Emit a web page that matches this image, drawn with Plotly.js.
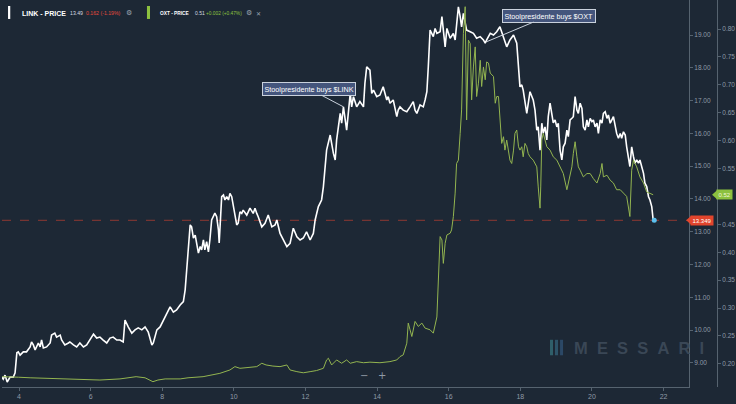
<!DOCTYPE html>
<html>
<head>
<meta charset="utf-8">
<script src="https://cdn.plot.ly/plotly-3.0.1.min.js"></script>
<style>html,body{margin:0;padding:0;background:#1d2835;}#chart{width:736px;height:404px;}</style>
</head>
<body>
<div id="chart"></div>
<script>
// ---- data (day of month, price) ----
const linkDays = [
3.52,3.56,3.61,3.67,3.75,3.84,3.89,3.94,3.98,4.03,
4.12,4.21,4.31,4.35,4.40,4.45,4.54,4.59,4.63,4.68,
4.77,4.87,4.91,5.00,5.05,5.15,5.19,5.28,5.38,5.42,
5.52,5.61,5.70,5.80,5.89,5.98,6.08,6.17,6.26,6.35,
6.45,6.54,6.63,6.73,6.82,6.91,6.96,7.05,7.15,7.24,
7.33,7.43,7.52,7.61,7.71,7.75,7.85,7.94,8.03,8.13,
8.22,8.31,8.40,8.50,8.59,8.64,8.68,8.73,8.78,8.82,
8.87,8.92,8.96,9.01,9.06,9.10,9.15,9.19,9.24,9.29,
9.33,9.38,9.47,9.52,9.57,9.59,9.66,9.71,9.75,9.80,
9.85,9.89,9.94,9.99,10.03,10.08,10.12,10.17,10.22,10.26,
10.36,10.45,10.54,10.59,10.64,10.68,10.78,10.87,10.96,11.06,
11.15,11.20,11.29,11.38,11.48,11.57,11.66,11.76,11.85,11.94,
12.03,12.13,12.22,12.27,12.36,12.45,12.50,12.59,12.69,12.78,
12.83,12.87,12.92,12.97,13.01,13.06,13.15,13.20,13.25,13.29,
13.34,13.43,13.52,13.62,13.66,13.71,13.76,13.80,13.85,13.90,
13.99,14.08,14.17,14.22,14.27,14.31,14.36,14.45,14.55,14.59,
14.64,14.73,14.83,14.92,15.01,15.06,15.11,15.20,15.29,15.34,
15.39,15.43,15.48,15.57,15.62,15.67,15.76,15.81,15.90,15.95,
16.04,16.13,16.18,16.22,16.27,16.32,16.36,16.41,16.50,16.60,
16.69,16.78,16.88,16.97,17.02,17.06,17.16,17.25,17.34,17.43,
17.53,17.62,17.71,17.81,17.90,17.95,17.99,18.04,18.08,18.18,
18.22,18.27,18.36,18.41,18.46,18.50,18.55,18.60,18.64,18.69,
18.74,18.78,18.83,18.88,18.92,18.97,19.02,19.06,19.11,19.16,
19.20,19.25,19.30,19.34,19.39,19.44,19.48,19.53,19.58,19.62,
19.67,19.72,19.76,19.81,19.86,19.90,19.95,20.00,20.04,20.09,
20.14,20.18,20.23,20.28,20.32,20.37,20.42,20.46,20.51,20.60,
20.65,20.69,20.74,20.79,20.83,20.88,20.93,20.97,21.06,21.11,
21.16,21.20,21.25,21.30,21.34,21.39,21.44,21.48,21.53,21.58,
21.62,21.67,21.71,21.74];
const linkPrice = [
8.57,8.51,8.63,8.42,8.57,8.57,8.70,9.31,9.34,9.24,
9.34,9.34,9.49,9.64,9.55,9.40,9.61,9.49,9.70,9.46,
9.49,9.61,9.85,9.91,9.79,9.85,9.70,9.55,9.61,9.64,
9.55,9.49,9.61,9.49,9.55,9.70,9.88,9.76,9.79,9.70,
9.61,9.76,9.79,9.70,9.70,9.64,10.31,10.10,9.91,10.01,
10.07,10.01,10.10,9.94,9.55,9.61,10.01,10.10,10.31,10.52,
10.71,10.55,10.62,10.77,10.87,11.23,11.74,12.45,13.21,13.15,
12.81,12.90,12.66,12.35,12.55,12.45,12.75,12.45,12.70,12.39,
12.75,13.36,13.57,13.46,13.05,12.66,14.07,14.12,13.97,14.07,
13.97,14.17,14.07,13.77,13.61,13.21,13.26,13.61,13.56,13.66,
13.51,13.72,13.56,13.72,13.56,13.46,13.15,13.26,13.51,13.15,
13.21,13.36,12.95,12.75,12.55,12.65,13.11,12.85,12.75,12.81,
13.00,12.75,12.95,13.36,13.77,13.97,14.37,15.49,15.95,15.39,
15.19,15.80,16.31,16.61,16.31,16.81,16.10,16.71,17.22,16.81,
17.12,16.81,16.97,16.81,17.53,18.03,17.98,17.93,17.22,17.32,
17.12,17.17,17.42,17.22,17.02,17.12,16.92,17.02,16.51,16.71,
16.81,16.71,16.66,16.81,16.97,16.71,16.61,16.87,16.81,17.02,
17.27,18.03,19.15,18.95,19.20,19.05,19.10,19.56,18.64,19.20,
18.90,19.05,18.85,19.30,19.86,19.56,19.25,19.66,19.15,19.10,
19.05,18.90,18.95,18.85,18.75,18.85,19.05,19.00,19.10,19.25,
18.95,18.64,18.85,19.00,18.75,18.03,17.42,17.48,17.32,16.61,
16.92,17.27,17.02,16.71,16.10,16.20,15.49,16.31,16.00,16.20,
15.80,16.51,16.92,16.61,16.32,16.41,16.20,16.31,15.49,15.19,
15.59,15.70,16.10,15.90,16.41,16.46,16.51,17.12,16.71,16.61,
16.92,16.76,16.20,16.10,16.41,16.20,16.46,16.36,16.41,16.20,
16.31,16.00,16.41,16.31,16.61,16.66,16.46,16.56,16.31,16.51,
16.20,16.00,15.85,16.00,15.85,16.05,15.95,15.59,14.99,15.59,
15.29,15.09,15.19,15.09,15.19,14.99,14.78,14.48,14.38,14.07,
13.97,13.77,13.36,13.35];

const oxtDays = [
3.53,3.75,3.99,4.31,4.78,5.15,5.70,6.26,6.82,7.13,
7.27,7.52,7.74,7.88,8.08,8.50,8.72,9.14,9.42,9.61,
9.89,10.03,10.17,10.45,10.64,10.78,10.90,11.09,11.29,11.48,
11.57,11.76,11.94,12.13,12.31,12.50,12.59,12.64,12.73,12.87,
13.01,13.15,13.25,13.43,13.62,13.80,14.08,14.36,14.55,14.64,
14.73,14.83,14.87,14.92,14.97,15.06,15.15,15.25,15.34,15.48,
15.57,15.67,15.71,15.76,15.81,15.85,15.90,15.95,16.04,16.08,
16.13,16.18,16.22,16.27,16.32,16.36,16.41,16.46,16.50,16.55,
16.60,16.64,16.69,16.74,16.78,16.83,16.88,16.92,16.97,17.02,
17.06,17.11,17.16,17.25,17.30,17.34,17.39,17.43,17.48,17.53,
17.57,17.62,17.67,17.71,17.76,17.81,17.85,17.90,17.95,17.99,
18.04,18.08,18.13,18.18,18.22,18.27,18.36,18.46,18.50,18.55,
18.57,18.60,18.64,18.74,18.83,18.92,19.02,19.11,19.20,19.30,
19.34,19.44,19.48,19.53,19.58,19.62,19.67,19.76,19.86,19.95,
20.04,20.14,20.23,20.28,20.32,20.42,20.51,20.60,20.69,20.79,
20.88,20.97,21.06,21.11,21.16,21.20,21.25,21.34,21.44,21.53,
21.62,21.71];
const oxtPrice = [
0.177,0.176,0.176,0.175,0.174,0.173,0.172,0.171,0.173,0.175,
0.177,0.175,0.168,0.171,0.173,0.173,0.175,0.177,0.180,0.183,
0.189,0.195,0.192,0.193,0.195,0.201,0.198,0.196,0.195,0.198,
0.189,0.186,0.184,0.186,0.188,0.192,0.207,0.210,0.198,0.207,
0.201,0.207,0.201,0.204,0.202,0.203,0.202,0.204,0.207,0.213,
0.216,0.237,0.273,0.261,0.249,0.276,0.267,0.273,0.264,0.261,
0.255,0.284,0.344,0.428,0.422,0.380,0.416,0.431,0.434,0.440,
0.464,0.506,0.559,0.565,0.613,0.655,0.792,0.840,0.637,0.780,
0.774,0.673,0.732,0.768,0.679,0.703,0.744,0.697,0.732,0.709,
0.741,0.739,0.721,0.715,0.667,0.679,0.679,0.631,0.595,0.607,
0.583,0.601,0.577,0.565,0.559,0.583,0.613,0.619,0.589,0.583,
0.589,0.571,0.595,0.589,0.577,0.571,0.565,0.553,0.517,0.479,
0.517,0.601,0.613,0.589,0.583,0.571,0.565,0.553,0.541,0.512,
0.524,0.553,0.577,0.598,0.571,0.553,0.547,0.535,0.541,0.541,
0.532,0.524,0.541,0.559,0.535,0.538,0.529,0.524,0.512,0.512,
0.506,0.500,0.464,0.547,0.565,0.559,0.553,0.535,0.524,0.508,
0.506,0.503];

const xTicks = [4, 6, 8, 10, 12, 14, 16, 18, 20, 22];
const linkTicks = [9, 10, 11, 12, 13, 14, 15, 16, 17, 18, 19];
// 0.50 is hidden behind the last-price tag in the reference
const oxtTicks = [0.20, 0.25, 0.30, 0.35, 0.40, 0.45, 0.55, 0.60, 0.65, 0.70, 0.75, 0.80];

const linkBuy = {day: 13.06, price: 16.81, text: 'Stoolpresidente buys $LINK'};
const oxtBuy = {day: 17.07, price: 18.80, text: 'Stoolpresidente buys $OXT'};
const legendLink = {name: 'LINK - PRICE', last: '13.49', change: '0.162 (-1.19%)'};
const legendOxt = {name: 'OXT - PRICE', last: '0.51', change: '+0.002 (+0.47%)'};
const linkLastLabel = '13.349';
const oxtLastLabel = '0.52';

// ---- styling ----
const BG = '#1d2835';
const AX = '#56636f';
const TXT = '#8f9aa6';
const FONT = 'Liberation Sans, Arial, sans-serif';
const GREEN = '#93b550';

const linkLast = linkPrice[linkPrice.length - 1];
const oxtLast = oxtPrice[oxtPrice.length - 1];

const traces = [
  {x: oxtDays, y: oxtPrice, yaxis: 'y2', type: 'scatter', mode: 'lines',
   line: {color: GREEN, width: 1}, hoverinfo: 'skip'},
  {x: linkDays, y: linkPrice, yaxis: 'y', type: 'scatter', mode: 'lines',
   line: {color: '#ffffff', width: 1.6}, hoverinfo: 'skip'},
  {x: [linkDays[linkDays.length - 1]], y: [linkLast], yaxis: 'y', type: 'scatter', mode: 'markers',
   marker: {color: '#5cc0ee', size: 5}, hoverinfo: 'skip'}
];

const XD = 0.9568;
const LY = 0.966;
function leg(x, text, font) {
  return {x: x, y: LY, xref: 'paper', yref: 'paper', xanchor: 'left', yanchor: 'middle',
          text: text, showarrow: false, font: font};
}

const annotations = [
  {x: linkBuy.day, y: linkBuy.price, xref: 'x', yref: 'y', text: linkBuy.text,
   showarrow: true, arrowhead: 0, arrowwidth: 1, arrowcolor: '#c9d1dc', ax: -34, ay: -18,
   bgcolor: '#44557c', bordercolor: '#c9d1dc', borderwidth: 1, borderpad: 1.5,
   font: {family: FONT, size: 7.2, color: '#ffffff'}},
  {x: oxtBuy.day, y: oxtBuy.price, xref: 'x', yref: 'y', text: oxtBuy.text,
   showarrow: true, arrowhead: 0, arrowwidth: 1, arrowcolor: '#c9d1dc', ax: 62, ay: -26,
   bgcolor: '#44557c', bordercolor: '#c9d1dc', borderwidth: 1, borderpad: 1.5,
   font: {family: FONT, size: 7.2, color: '#ffffff'}},
  // last price tags
  {x: 0.9585, y: linkLast, xref: 'paper', yref: 'y', xanchor: 'left', yanchor: 'middle',
   text: linkLastLabel, showarrow: false, bgcolor: '#e2452d', borderpad: 1.5,
   font: {family: FONT, size: 6, color: '#ffffff'}},
  {x: 0.9945, y: oxtLast, xref: 'paper', yref: 'y2', xanchor: 'left', yanchor: 'middle',
   text: oxtLastLabel, showarrow: false, bgcolor: '#8cc13f', borderpad: 1.5,
   font: {family: FONT, size: 6, color: '#eef7dc'}},
  // legend
  leg(0.0251, '<b>' + legendLink.name + '</b>', {family: FONT, size: 7, color: '#ffffff'}),
  leg(0.0919, legendLink.last, {family: FONT, size: 5.2, color: '#d5dbe1'}),
  leg(0.1142, legendLink.change, {family: FONT, size: 5.2, color: '#e5483c'}),
  leg(0.1699, '⚙', {family: 'DejaVu Sans', size: 7, color: '#9aa5b1'}),
  leg(0.2173, '<b>' + legendOxt.name + '</b>', {family: FONT, size: 4.8, color: '#ffffff'}),
  leg(0.2660, legendOxt.last, {family: FONT, size: 5, color: '#d5dbe1'}),
  leg(0.2814, legendOxt.change, {family: FONT, size: 4.8, color: '#8cc13f'}),
  leg(0.3370, '⚙', {family: 'DejaVu Sans', size: 7, color: '#9aa5b1'}),
  leg(0.3510, '✕', {family: 'DejaVu Sans', size: 6, color: '#9aa5b1'}),
  // zoom controls
  {x: 0.5167, y: 0.031, xref: 'paper', yref: 'paper', xanchor: 'center', yanchor: 'middle',
   text: '−&nbsp;&nbsp;&nbsp;+', showarrow: false, font: {family: 'DejaVu Sans', size: 10, color: '#8f9aa6'}},
  // watermark
  {x: 0.794, y: 0.102, xref: 'paper', yref: 'paper', xanchor: 'left', yanchor: 'middle',
   text: '<b>M&nbsp;&nbsp;E&nbsp;&nbsp;S&nbsp;&nbsp;S&nbsp;&nbsp;A&nbsp;&nbsp;R&nbsp;&nbsp;I</b>', showarrow: false,
   font: {family: FONT, size: 16.5, color: '#3a4756'}}
];

const shapes = [
  {type: 'line', xref: 'paper', yref: 'y', x0: 0, x1: 0.955, y0: linkLast, y1: linkLast,
   line: {color: '#8e3833', width: 1, dash: 'dash'}, layer: 'below'},
  {type: 'path', xref: 'paper', yref: 'y', xsizemode: 'pixel', ysizemode: 'pixel',
   xanchor: 0.9585, yanchor: linkLast, path: 'M -4 0 L 1 4.5 L 1 -4.5 Z',
   fillcolor: '#e2452d', line: {width: 0}},
  {type: 'path', xref: 'paper', yref: 'y2', xsizemode: 'pixel', ysizemode: 'pixel',
   xanchor: 0.9945, yanchor: oxtLast, path: 'M -4 0 L 1 4.5 L 1 -4.5 Z',
   fillcolor: '#8cc13f', line: {width: 0}},
  // legend color bars
  {type: 'rect', xref: 'paper', yref: 'paper', x0: 0.0084, x1: 0.0115, y0: 0.951, y1: 0.9845,
   fillcolor: '#ffffff', line: {width: 0}},
  {type: 'rect', xref: 'paper', yref: 'paper', x0: 0.2019, x1: 0.2061, y0: 0.951, y1: 0.9845,
   fillcolor: '#8cc13f', line: {width: 0}},
  // watermark logo bars
  {type: 'rect', xref: 'paper', yref: 'paper', x0: 0.7632, x1: 0.7674, y0: 0.082, y1: 0.122,
   fillcolor: '#2f5f6a', line: {width: 0}},
  {type: 'rect', xref: 'paper', yref: 'paper', x0: 0.7702, x1: 0.7744, y0: 0.082, y1: 0.122,
   fillcolor: '#2d5368', line: {width: 0}},
  {type: 'rect', xref: 'paper', yref: 'paper', x0: 0.7772, x1: 0.7814, y0: 0.082, y1: 0.122,
   fillcolor: '#2b4866', line: {width: 0}}
];

const axisCommon = {
  showgrid: false, zeroline: false, showline: true, linecolor: AX, linewidth: 1,
  ticks: 'outside', ticklen: 3, tickcolor: AX, tickfont: {family: FONT, size: 6.5, color: TXT}
};

const layout = {
  width: 736, height: 404,
  margin: {l: 2, r: 16, t: 0, b: 17, pad: 0},
  paper_bgcolor: BG, plot_bgcolor: BG,
  showlegend: false,
  xaxis: Object.assign({}, axisCommon, {
    domain: [0, XD], range: [3.525, 22.71], tickvals: xTicks,
    ticktext: xTicks.map(String), tickfont: {family: FONT, size: 7, color: TXT}
  }),
  yaxis: Object.assign({}, axisCommon, {
    side: 'right', anchor: 'x', range: [8.268, 20.067], tickvals: linkTicks,
    tickformat: '.2f'
  }),
  yaxis2: Object.assign({}, axisCommon, {
    side: 'right', overlaying: 'y', anchor: 'free', position: 0.9958,
    range: [0.1585, 0.852], tickvals: oxtTicks, tickformat: '.2f'
  }),
  annotations: annotations,
  shapes: shapes
};

Plotly.newPlot('chart', traces, layout, {staticPlot: true, displayModeBar: false});
</script>
</body>
</html>
